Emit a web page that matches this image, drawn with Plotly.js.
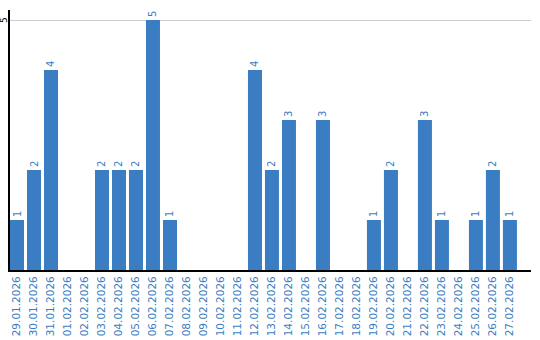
<!DOCTYPE html>
<html><head><meta charset="utf-8">
<script src="https://cdn.plot.ly/plotly-3.0.1.min.js"></script>
<style>html,body{margin:0;padding:0;background:#fff}#chart{width:540px;height:340px}</style>
</head><body><div id="chart"></div>
<script>
const dates = ["29.01.2026","30.01.2026","31.01.2026","01.02.2026","02.02.2026","03.02.2026","04.02.2026","05.02.2026","06.02.2026","07.02.2026","08.02.2026","09.02.2026","10.02.2026","11.02.2026","12.02.2026","13.02.2026","14.02.2026","15.02.2026","16.02.2026","17.02.2026","18.02.2026","19.02.2026","20.02.2026","21.02.2026","22.02.2026","23.02.2026","24.02.2026","25.02.2026","26.02.2026","27.02.2026"];
const counts = [1,2,4,0,0,2,2,2,5,1,0,0,0,0,4,2,3,0,3,0,0,1,2,0,3,1,0,1,2,1];
const yTicks = [5];

const blue = '#3b7dc2';
const trace = {
  type: 'bar',
  x: dates,
  y: counts,
  marker: {color: blue},
  text: counts.map(v => v ? String(v) : ''),
  textposition: 'outside',
  textangle: -90,
  textfont: {family: 'DejaVu Sans', size: 10, color: blue},
  cliponaxis: false,
  hoverinfo: 'none'
};
const layout = {
  width: 540, height: 340,
  margin: {l: 10, r: 9, t: 10, b: 70},
  paper_bgcolor: '#fff', plot_bgcolor: '#fff',
  showlegend: false,
  bargap: 0.176,
  xaxis: {
    type: 'category',
    range: [-0.412, 30.24],
    tickangle: -90,
    tickfont: {family: 'DejaVu Sans', size: 10.5, color: blue},
    showline: true, linecolor: '#000', linewidth: 2,
    showgrid: false, ticks: '', zeroline: false,
    automargin: false
  },
  yaxis: {
    range: [0, 5.2],
    tickvals: yTicks,
    showticklabels: false,
    showline: true, linecolor: '#000', linewidth: 2,
    showgrid: true, gridcolor: '#cccccc', gridwidth: 1,
    zeroline: false, ticks: '',
    automargin: false
  },
  annotations: yTicks.map(v => ({
    xref: 'paper', yref: 'y', x: -0.0115, y: v,
    text: String(v), textangle: -90, showarrow: false,
    xanchor: 'center', yanchor: 'middle',
    font: {family: 'DejaVu Sans', size: 9, color: '#000'}
  }))
};
Plotly.newPlot('chart', [trace], layout, {staticPlot: true, displayModeBar: false});
</script>
</body></html>
